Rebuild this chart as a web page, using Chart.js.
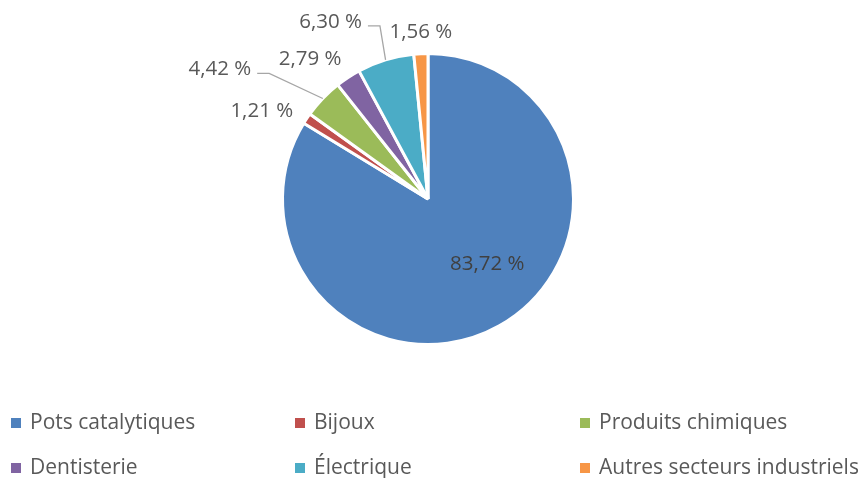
<!DOCTYPE html>
<html>
<head>
<meta charset="utf-8">
<script src="https://cdn.jsdelivr.net/npm/chart.js@4.4.1/dist/chart.umd.min.js"></script>
<style>
html,body{margin:0;padding:0;background:#fff;}
canvas{display:block;}
</style>
</head>
<body>
<canvas id="c" width="858" height="478"></canvas>
<script>
const categories = ["Pots catalytiques", "Bijoux", "Produits chimiques", "Dentisterie", "Électrique", "Autres secteurs industriels"];
const values = [83.72, 1.21, 4.42, 2.79, 6.30, 1.56];
const valueLabels = ["83,72 %", "1,21 %", "4,42 %", "2,79 %", "6,30 %", "1,56 %"];
const colors = ["#4F81BD", "#C0504D", "#9BBB59", "#8064A2", "#4BACC6", "#F79646"];

// label placement relative to each slice's outer-edge midpoint (style config)
const labelOffsets = [[-12, -62], [-45, -7], [-103, -29], [-38, -18], [-55, -38], [0, -22]];
const leaderLines = [false, false, true, false, true, false];
const labelColors = ["#404040", "#595959", "#595959", "#595959", "#595959", "#595959"];

const FONT = '"Open Sans", "Noto Sans", sans-serif';

const labelPlugin = {
  id: 'sliceLabels',
  afterDatasetsDraw(chart) {
    const ctx = chart.ctx;
    const meta = chart.getDatasetMeta(0);
    ctx.save();
    ctx.font = '20.5px ' + FONT;
    ctx.textBaseline = 'middle';
    ctx.textAlign = 'center';
    meta.data.forEach((arc, i) => {
      const p = arc.getProps(['x', 'y', 'startAngle', 'endAngle', 'outerRadius'], true);
      const mid = (p.startAngle + p.endAngle) / 2;
      const ex = p.x + Math.cos(mid) * p.outerRadius;
      const ey = p.y + Math.sin(mid) * p.outerRadius;
      const lx = ex + labelOffsets[i][0];
      const ly = ey + labelOffsets[i][1];
      const txt = valueLabels[i];
      const w = ctx.measureText(txt).width;
      if (leaderLines[i]) {
        ctx.strokeStyle = '#A6A6A6';
        ctx.lineWidth = 1.3;
        ctx.beginPath();
        const sx = lx + w / 2 + 6;
        const sy = ly + 4;
        ctx.moveTo(sx, sy);
        ctx.lineTo(sx + 12, sy);
        ctx.lineTo(ex, ey);
        ctx.stroke();
      }
      ctx.fillStyle = labelColors[i];
      ctx.fillText(txt, lx, ly);
    });
    ctx.restore();
  }
};

const legendPlugin = {
  id: 'gridLegend',
  afterDraw(chart) {
    const ctx = chart.ctx;
    const colX = [11, 295, 580];
    const rowY = [423, 468];
    ctx.save();
    ctx.font = '21px ' + FONT;
    ctx.textBaseline = 'middle';
    ctx.textAlign = 'left';
    chart.data.labels.forEach((lab, i) => {
      const x = colX[i % 3];
      const y = rowY[Math.floor(i / 3)];
      ctx.fillStyle = chart.data.datasets[0].backgroundColor[i];
      ctx.fillRect(x, y - 5, 10, 10);
      ctx.fillStyle = '#595959';
      ctx.fillText(lab, x + 19, y);
    });
    ctx.restore();
  }
};

new Chart(document.getElementById('c'), {
  type: 'pie',
  data: {
    labels: categories,
    datasets: [{
      data: values,
      backgroundColor: colors,
      borderColor: '#FFFFFF',
      borderWidth: 3
    }]
  },
  options: {
    responsive: false,
    animation: false,
    layout: { padding: { top: 52, bottom: 132, left: 0, right: 2 } },
    plugins: { legend: { display: false }, tooltip: { enabled: false } }
  },
  plugins: [labelPlugin, legendPlugin]
});
</script>
</body>
</html>
